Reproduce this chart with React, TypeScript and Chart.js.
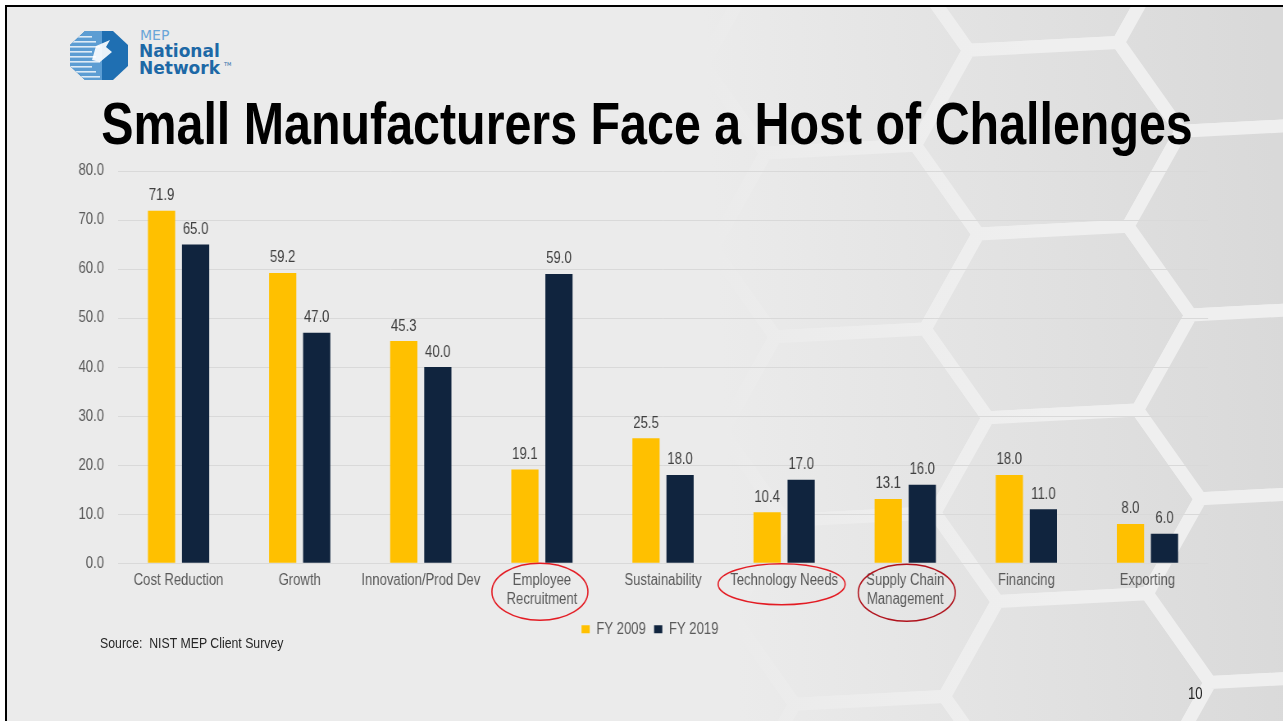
import React, { useEffect, useRef } from "react";
import { Chart, registerables } from "chart.js";

Chart.register(...registerables);

// ---------- data ----------
const categories: string[][] = [
  ["Cost Reduction"],
  ["Growth"],
  ["Innovation/Prod Dev"],
  ["Employee", "Recruitment"],
  ["Sustainability"],
  ["Technology Needs"],
  ["Supply Chain", "Management"],
  ["Financing"],
  ["Exporting"],
];
const fy2009: number[] = [71.9, 59.2, 45.3, 19.1, 25.5, 10.4, 13.1, 18.0, 8.0];
const fy2019: number[] = [65.0, 47.0, 40.0, 59.0, 18.0, 17.0, 16.0, 11.0, 6.0];
const seriesNames: string[] = ["FY 2009", "FY 2019"];
const yMin = 0;
const yMax = 80;
const yStep = 10;
const circledCategories: number[] = [3, 5, 6];

// Arial Narrow is emulated by drawing Liberation Sans horizontally condensed.
const S = 0.82;
const CANVAS_W = 1565;
const FONT = '"Liberation Sans", Arial, sans-serif';

// ---------- plugins ----------
const valueLabels = {
  id: "valueLabels",
  afterDatasetsDraw(chart: any) {
    const { ctx } = chart;
    ctx.save();
    ctx.font = `16px ${FONT}`;
    ctx.fillStyle = "#404040";
    ctx.textAlign = "center";
    ctx.textBaseline = "middle";
    chart.data.datasets.forEach((ds: any, di: number) => {
      const meta = chart.getDatasetMeta(di);
      meta.data.forEach((bar: any, i: number) => {
        const v = ds.data[i] as number;
        ctx.fillText(v.toFixed(1), bar.x, bar.y - 15);
      });
    });
    ctx.restore();
  },
};

const ellipseStyles: Record<number, any> = {
  3: { dx: -2, dy: 28.5, rx: 48, ry: 28.5, color: "#e31b23" },
  5: { dx: -2.5, dy: 21, rx: 63.5, ry: 20.5, color: "#e31b23" },
  6: { dx: 1.5, dy: 29.5, rx: 48.5, ry: 28.5, color: "#b0121c" },
};

const labelEllipses = {
  id: "labelEllipses",
  afterDraw(chart: any) {
    const { ctx } = chart;
    const xs = chart.scales.x;
    const bottom = chart.chartArea.bottom;
    ctx.save();
    circledCategories.forEach((idx) => {
      const st = ellipseStyles[idx];
      const cx = xs.getPixelForValue(idx) + st.dx / S;
      const cy = bottom + st.dy;
      ctx.strokeStyle = st.color;
      ctx.lineWidth = 1.6;
      ctx.beginPath();
      ctx.ellipse(cx, cy, st.rx / S, st.ry, 0, 0, Math.PI * 2);
      ctx.stroke();
    });
    ctx.restore();
  },
};

const legendShift = {
  id: "legendShift",
  afterLayout(chart: any) {
    const lg = chart.legend;
    if (lg) {
      lg.left += 8.5;
      lg.right += 8.5;
    }
  },
};

// ---------- decorative background ----------
function hexPoints(cx: number, cy: number): string {
  const a = 75,
    b = 58,
    h = 92;
  const pts = [
    [cx - a - b, cy],
    [cx - a, cy - h],
    [cx + a, cy - h],
    [cx + a + b, cy],
    [cx + a, cy + h],
    [cx - a, cy + h],
  ];
  return pts.map((p) => p.join(",")).join(" ");
}

function HexBackground() {
  const hexes: string[] = [];
  for (let c = -6; c <= 2; c++) {
    for (let r = -3; r <= 5; r++) {
      const cx = 1058 + c * 208;
      const cy = 322 + r * 184 + (Math.abs(c) % 2 === 1 ? 92 : 0);
      hexes.push(hexPoints(cx, cy));
    }
  }
  return (
    <svg width={1283} height={721} style={{ position: "absolute", left: 0, top: 0 }}>
      <defs>
        <linearGradient id="hexFill" gradientUnits="userSpaceOnUse" x1="720" y1="0" x2="1283" y2="0">
          <stop offset="0" stopColor="#ebebeb" />
          <stop offset="1" stopColor="#d9d9d9" />
        </linearGradient>
        <linearGradient id="hexStroke" gradientUnits="userSpaceOnUse" x1="720" y1="0" x2="1050" y2="0">
          <stop offset="0" stopColor="#ebebeb" />
          <stop offset="1" stopColor="#efefef" />
        </linearGradient>
      </defs>
      <rect x={0} y={0} width={1283} height={721} fill="#ebebeb" />
      <g transform="rotate(-3 1058 322)">
        {hexes.map((p, i) => (
          <polygon key={i} points={p} fill="url(#hexFill)" stroke="url(#hexStroke)" strokeWidth={13} />
        ))}
      </g>
    </svg>
  );
}

function Logo() {
  return (
    <svg width={240} height={90} style={{ position: "absolute", left: 0, top: 0 }}>
      <defs>
        <clipPath id="octa">
          <polygon points="85,31 113,31 128,45 128,66 113,80 85,80 70,66 70,45" />
        </clipPath>
      </defs>
      <g clipPath="url(#octa)">
        <rect x={70} y={30} width={60} height={52} fill="#1f6fb2" />
        <rect x={70} y={30} width={32} height={52} fill="#5c9dd3" />
        {[36, 41, 46, 51, 56, 61, 66, 71, 76].map((y, i) => (
          <rect key={i} x={70} y={y} width={22 + (i % 3) * 4} height={1.6} fill="#ffffff" opacity={0.8} />
        ))}
        <path d="M96,46 L110,40 L106,47 L112,52 L100,62 L92,60 Z" fill="#ffffff" opacity={0.9} />
      </g>
      <text x={140} y={40} fontFamily="DejaVu Sans" fontSize={14} fill="#6aa6d8">
        MEP
      </text>
      <text x={139} y={57} fontFamily="DejaVu Sans" fontWeight="bold" fontSize={17} fill="#1d68a6">
        National
      </text>
      <text x={139} y={74} fontFamily="DejaVu Sans" fontWeight="bold" fontSize={17} fill="#1d68a6">
        Network
      </text>
      <text x={224} y={66} fontFamily="DejaVu Sans" fontSize={5} fill="#1d68a6">
        TM
      </text>
    </svg>
  );
}

// ---------- chart ----------
function BarChart() {
  const ref = useRef<HTMLCanvasElement | null>(null);
  useEffect(() => {
    if (!ref.current) return;
    const font = { family: FONT, size: 16 };
    const chart = new Chart(ref.current, {
      type: "bar",
      data: {
        labels: categories,
        datasets: [
          {
            label: seriesNames[0],
            data: fy2009,
            backgroundColor: "#FFC000",
            categoryPercentage: 0.562,
            barPercentage: 0.8,
          },
          {
            label: seriesNames[1],
            data: fy2019,
            backgroundColor: "#10243E",
            categoryPercentage: 0.562,
            barPercentage: 0.8,
          },
        ],
      },
      options: {
        responsive: false,
        animation: false,
        layout: { padding: { left: 95.1, right: 91.8, top: 171, bottom: 73.8 } },
        scales: {
          x: {
            grid: { display: false, drawTicks: false },
            border: { display: false },
            ticks: {
              color: "#595959",
              font,
              padding: 8,
              maxRotation: 0,
              autoSkip: false,
            },
            afterFit: (s: any) => {
              s.height = 48;
            },
          },
          y: {
            min: yMin,
            max: yMax,
            ticks: {
              stepSize: yStep,
              color: "#595959",
              font,
              padding: 17.1,
              callback: (v: any) => Number(v).toFixed(1),
            },
            grid: { color: "#d9d9d9", drawTicks: false, lineWidth: 1 },
            border: { display: false },
            afterFit: (s: any) => {
              s.width = 48.8;
            },
          },
        },
        plugins: {
          legend: {
            position: "bottom",
            labels: {
              boxWidth: 10,
              boxHeight: 8,
              padding: 10,
              color: "#595959",
              font,
            },
          },
          tooltip: { enabled: false },
        },
      },
      plugins: [valueLabels, labelEllipses, legendShift],
    } as any);
    return () => chart.destroy();
  }, []);
  return (
    <canvas
      ref={ref}
      width={CANVAS_W}
      height={721}
      style={{
        position: "absolute",
        left: 0,
        top: 0,
        width: CANVAS_W,
        height: 721,
        display: "block",
        transform: `scaleX(${S})`,
        transformOrigin: "0 0",
      }}
    />
  );
}

export default function App() {
  return (
    <div
      style={{
        position: "absolute",
        left: 0,
        top: 0,
        width: 1283,
        height: 721,
        overflow: "hidden",
        background: "#ffffff",
      }}
    >
      <div
        style={{
          position: "absolute",
          left: 5,
          top: 5,
          width: 1300,
          height: 740,
          overflow: "hidden",
          borderLeft: "2px solid #000",
          borderTop: "2px solid #000",
        }}
      >
        <div style={{ position: "absolute", left: -7, top: -7, width: 1283, height: 721 }}>
          <HexBackground />
          <Logo />
          <div
            style={{
              position: "absolute",
              left: -353.5,
              top: 95,
              width: 2000,
              textAlign: "center",
              fontFamily: FONT,
              fontWeight: "bold",
              fontSize: 59,
              lineHeight: "59px",
              color: "#000",
              whiteSpace: "nowrap",
              transform: `scaleX(${S})`,
              transformOrigin: "1000px 0",
            }}
          >
            Small Manufacturers Face a Host of Challenges
          </div>
          <BarChart />
          <div
            style={{
              position: "absolute",
              left: 100,
              top: 635,
              fontFamily: FONT,
              fontSize: 15,
              lineHeight: "15px",
              color: "#262626",
              whiteSpace: "pre",
              transform: `scaleX(${S})`,
              transformOrigin: "0 0",
            }}
          >
            {"Source:  NIST MEP Client Survey"}
          </div>
          <div
            style={{
              position: "absolute",
              left: 1188,
              top: 686,
              fontFamily: FONT,
              fontSize: 16,
              lineHeight: "16px",
              color: "#262626",
              transform: `scaleX(${S})`,
              transformOrigin: "0 0",
            }}
          >
            10
          </div>
        </div>
      </div>
    </div>
  );
}
